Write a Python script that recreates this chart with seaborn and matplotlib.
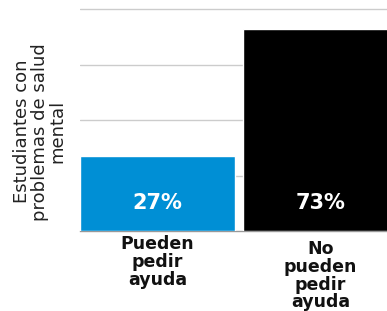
import matplotlib
matplotlib.use("Agg")
import matplotlib.pyplot as plt
import matplotlib.transforms as mtrans
import seaborn as sns
import pandas as pd

# datos
categorias = ["Pueden\npedir\nayuda", "No\npueden\npedir\nayuda"]
valores = [27, 73]
etiquetas = ["27%", "73%"]
colores = ["#008fd5", "#000000"]

sns.set_style("white")
plt.rcParams['font.family'] = ['DejaVu Sans']

df = pd.DataFrame({"grupo": categorias, "valor": valores})

fig = plt.figure(figsize=(3.87, 3.11), dpi=100)
ax = fig.add_axes([80/387, 1 - 231/311, 307/387, 231/311])

sns.barplot(data=df, x="grupo", y="valor", hue="grupo", palette=colores,
            width=0.95, legend=False, ax=ax, saturation=1, zorder=3)

ax.set_xlim(-0.475, 1.408)
ax.set_ylim(0, 83.4)
ax.set_yticks([20, 40, 60, 80])
ax.set_yticklabels([])
ax.yaxis.grid(True, color="#cccccc", linewidth=1, zorder=0)
ax.tick_params(axis="both", length=0)

for s in ["top", "right", "left"]:
    ax.spines[s].set_visible(False)
ax.spines["bottom"].set_color("#999999")
ax.spines["bottom"].set_linewidth(1)

for i, t in enumerate(etiquetas):
    ax.text(i, 10, t, color="white", fontsize=15, fontweight="bold",
            ha="center", va="center", zorder=5)

ax.set_xlabel("")
ax.set_xticks([0, 1])
ax.set_xticklabels(categorias, fontsize=12.5, fontweight="bold",
                   linespacing=0.98, va="top", color="#111111")
ax.tick_params(axis="x", pad=3)
# la segunda etiqueta empieza un poco mas abajo
lbl = ax.get_xticklabels()[1]
lbl.set_transform(lbl.get_transform() + mtrans.ScaledTranslation(0, -5/100, fig.dpi_scale_trans))

ax.set_ylabel("Estudiantes con\nproblemas de salud\nmental", fontsize=13,
              linespacing=1.0, labelpad=6, color="#222222")
ax.yaxis.label.set_y(0.43)

fig.savefig("out.png", dpi=100)
